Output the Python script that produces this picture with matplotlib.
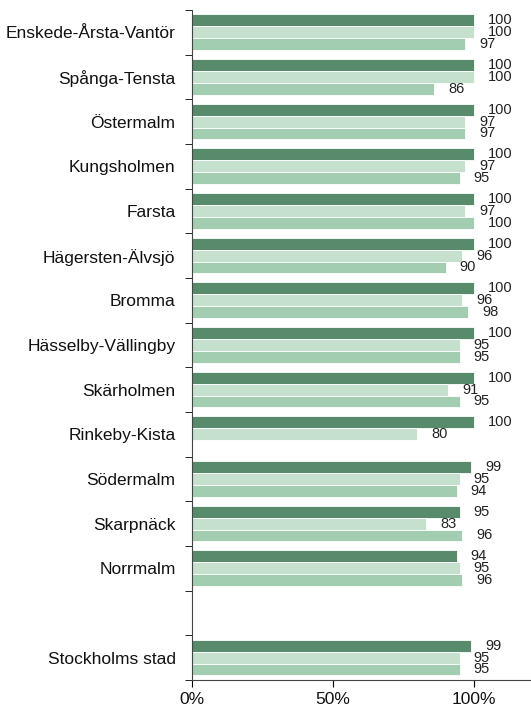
import numpy as np
import matplotlib.pyplot as plt

plt.rcParams['font.family'] = ['Liberation Sans', 'DejaVu Sans']

districts = ["Enskede-Årsta-Vantör", "Spånga-Tensta", "Östermalm", "Kungsholmen",
             "Farsta", "Hägersten-Älvsjö", "Bromma", "Hässelby-Vällingby",
             "Skärholmen", "Rinkeby-Kista", "Södermalm", "Skarpnäck", "Norrmalm",
             "", "Stockholms stad"]
serie1 = [100, 100, 100, 100, 100, 100, 100, 100, 100, 100, 99, 95, 94, None, 99]
serie2 = [100, 100, 97, 97, 97, 96, 96, 95, 91, 80, 95, 83, 95, None, 95]
serie3 = [97, 86, 97, 95, 100, 90, 98, 95, 95, None, 94, 96, 96, None, 95]

colors = ["#588a6c", "#c5e0cd", "#a3cdb1"]

fig = plt.figure(figsize=(5.31, 7.06), dpi=100)
ax = fig.add_axes([0.362, 0.037, 0.636, 0.949])

n = len(districts)
h = 0.8 / 3
for k, vals in enumerate([serie1, serie2, serie3]):
    for i, v in enumerate(vals):
        if v is None:
            continue
        y = i - 0.4 + h * (k + 0.5)
        ax.barh(y, v, height=h, color=colors[k], edgecolor="white", linewidth=0.6)
        ax.text(v + 5, y, str(v), va="center", ha="left", fontsize=10.5, color="#222222")

ax.set_ylim(n - 0.5, -0.5)
ax.set_xlim(0, 120)
ax.set_yticks(np.arange(n))
ax.set_yticklabels(districts, fontsize=12.5, color="#111111")
ax.tick_params(axis="y", length=0, pad=12)
ax.set_yticks(np.arange(-0.5, n, 1), minor=True)
ax.tick_params(axis="y", which="minor", length=5, direction="out")
ax.set_xticks([0, 50, 100])
ax.set_xticklabels(["0%", "50%", "100%"], fontsize=12.5, color="#111111")
ax.tick_params(axis="x", length=5, direction="out")
for s in ["top", "right"]:
    ax.spines[s].set_visible(False)
ax.spines["left"].set_color("#444444")
ax.spines["bottom"].set_color("#444444")

fig.savefig("out.png", dpi=100)
